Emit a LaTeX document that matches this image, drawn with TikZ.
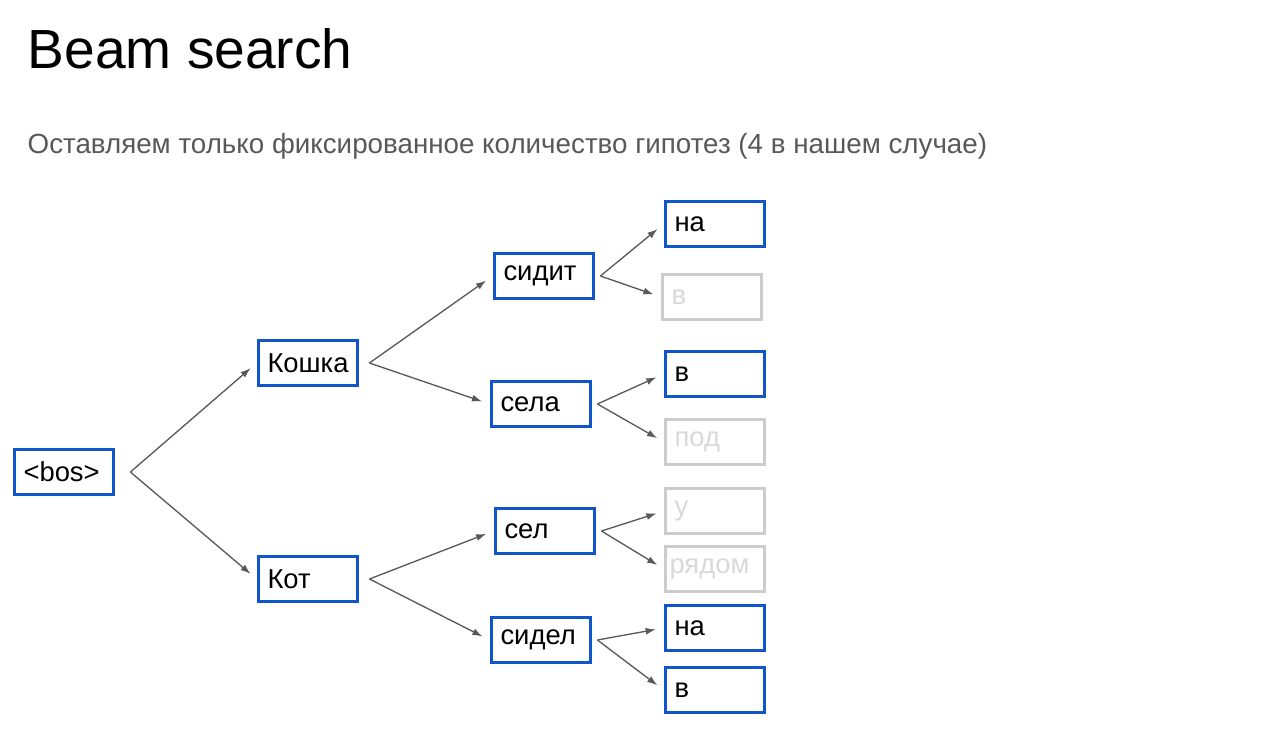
\documentclass[tikz,border=0pt]{standalone}
\usepackage{fontspec}
\setmainfont{Liberation Sans}
\usetikzlibrary{arrows.meta, positioning, calc}
\definecolor{cblue}{HTML}{1155CC}
\definecolor{cgrey}{HTML}{595959}
\definecolor{cfade}{HTML}{CCCCCC}
\definecolor{cfadetext}{HTML}{D9D9D9}
\tikzset{
  every picture/.style={line width=0.75pt},
  word/.style={draw=cblue, line width=2.2pt, minimum width=1.98cm, minimum height=0.9cm,
               text width=1.62cm, align=left, inner xsep=0.18cm, font=\fontsize{15.6}{18}\selectfont},
  dropped/.style={word, draw=cfade, line width=1.7pt, text=cfadetext},
  arrow/.style={-{Latex[length=0.2cm, width=0.14cm]}, draw=cgrey, line width=0.75pt, shorten >=0.16cm},
  title/.style={font=\fontsize{31.4}{38}\selectfont, anchor=base west, inner sep=0pt},
  note/.style={font=\fontsize{15.8}{19}\selectfont, text=cgrey, anchor=base west, inner sep=0pt},
}

\begin{document}
\begin{tikzpicture}[x=0.02cm, y=-0.02cm]
  \path[fill=white, use as bounding box] (0,0) rectangle (1285,728);
  \node[title] (head) at (27,68) {Beam search};
  \node[note] (sub) at (27,153) {Оставляем только фиксированное количество гипотез (4 в нашем случае)};
  \node[word] (bos) at (64,472) {<bos>};
  \node[word] (koshka) at (308,363) {Кошка};
  \node[word] (kot) at (308,579) {Кот};
  \foreach \n/\t/\x/\y in {sidit/сидит/544/276, sela/села/541/404, sel/сел/545/531, sidel/сидел/541/640}
    \node[word] (\n) at (\x,\y) {\t};
  % kept hypotheses in blue, dropped ones faded
  \foreach \n/\t/\y in {na1/на/224, v2/в/374, na2/на/628, v3/в/690}
    \node[word] (\n) at (715,\y) {\t};
  \foreach \n/\t/\x/\y in {v1/в/712/297, pod/под/715/442, u/у/715/511}
    \node[dropped] (\n) at (\x,\y) {\t};
  \node[dropped, inner xsep=0.08cm, text width=1.82cm] (ryadom) at (715,569) {рядом};
  \foreach \s/\d in {bos/15, koshka/10, kot/10, sidit/5, sela/5, sel/5, sidel/5}
    \coordinate (\s-f) at ($(\s.east)+(\d,0)$);
  \foreach \s/\a/\b in {bos/koshka/kot, koshka/sidit/sela, kot/sel/sidel, sidit/na1/v1,
                        sela/v2/pod, sel/u/ryadom, sidel/na2/v3} {
    \draw[arrow] (\s-f) -- (\a.west);
    \draw[arrow] (\s-f) -- (\b.west);
  }
\end{tikzpicture}
\end{document}
